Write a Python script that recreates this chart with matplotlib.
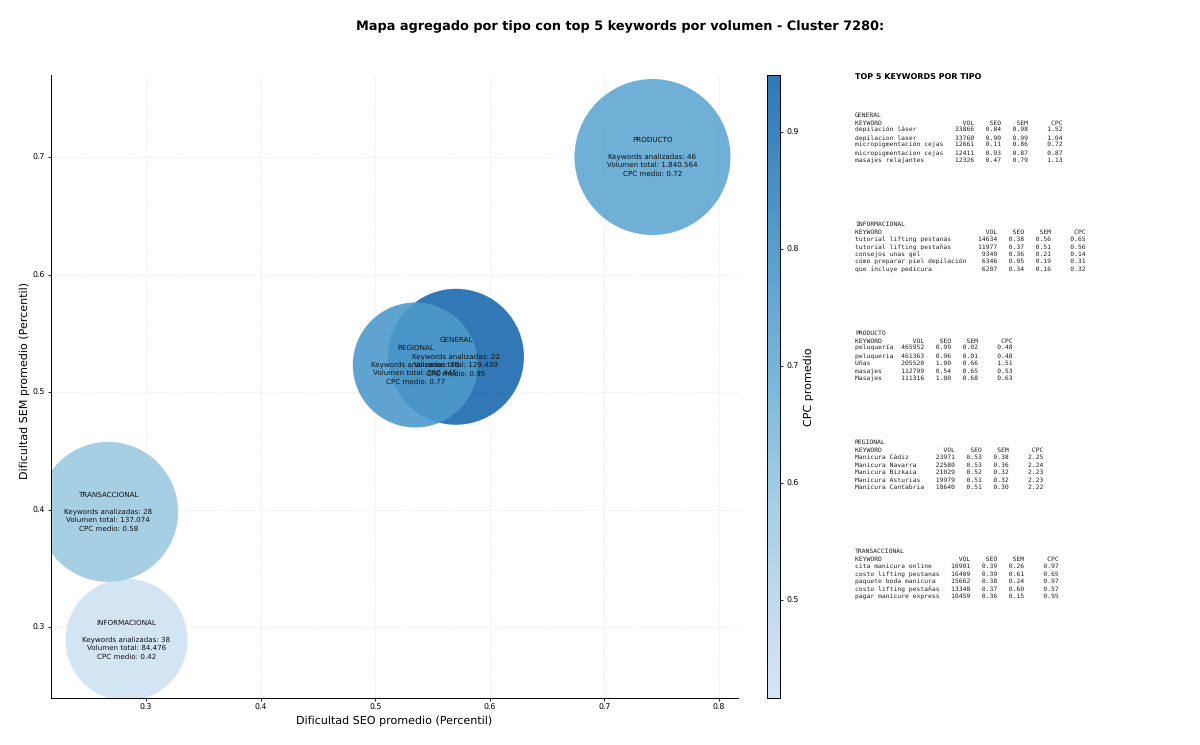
import matplotlib
matplotlib.use("Agg")
import matplotlib.pyplot as plt
from matplotlib.colors import LinearSegmentedColormap, Normalize
from matplotlib.cm import ScalarMappable
import numpy as np

plt.rcParams["text.hinting"] = "none"

# aggregated values per type
tipos = ["GENERAL", "INFORMACIONAL", "PRODUCTO", "REGIONAL", "TRANSACCIONAL"]
seo_medio = [0.5705, 0.283, 0.742, 0.535, 0.267]
sem_medio = [0.530, 0.289, 0.700, 0.523, 0.398]
cpc_medio = [0.95, 0.42, 0.72, 0.77, 0.58]
n_keywords = [22, 38, 46, 78, 28]
vol_total = ["129.430", "84.476", "1.840.564", "250.445", "137.074"]

# bubble radius in pixels
radio_px = [68, 61, 78, 62.5, 70]

# top 5 tables
general_kw = ["depilación láser", "depilacion laser", "micropigmentación cejas", "micropigmentacion cejas", "masajes relajantes"]
general_vol = [33866, 33760, 12661, 12411, 12326]
general_seo = [0.84, 0.90, 0.11, 0.93, 0.47]
general_sem = [0.98, 0.99, 0.86, 0.87, 0.79]
general_cpc = [1.52, 1.04, 0.72, 0.87, 1.13]

info_kw = ["tutorial lifting pestanas", "tutorial lifting pestañas", "consejos unas gel", "cómo preparar piel depilación", "que incluye pedicura"]
info_vol = [14634, 11977, 9340, 6346, 6207]
info_seo = [0.38, 0.37, 0.36, 0.05, 0.34]
info_sem = [0.56, 0.51, 0.21, 0.19, 0.16]
info_cpc = [0.65, 0.56, 0.14, 0.31, 0.32]

producto_kw = ["peluquería", "peluqueria", "Uñas", "masajes", "Masajes"]
producto_vol = [465952, 461363, 205520, 112799, 111316]
producto_seo = [0.99, 0.96, 1.00, 0.54, 1.00]
producto_sem = [0.02, 0.01, 0.66, 0.65, 0.68]
producto_cpc = [0.48, 0.48, 1.51, 0.53, 0.63]

regional_kw = ["Manicura Cádiz", "Manicura Navarra", "Manicura Bizkaia", "Manicura Asturias", "Manicura Cantabria"]
regional_vol = [23971, 22580, 21029, 19979, 18640]
regional_seo = [0.53, 0.53, 0.52, 0.51, 0.51]
regional_sem = [0.38, 0.36, 0.32, 0.32, 0.30]
regional_cpc = [2.25, 2.24, 2.23, 2.23, 2.22]

trans_kw = ["cita manicura online", "costo lifting pestanas", "paquete boda manicura", "costo lifting pestañas", "pagar manicure express"]
trans_vol = [16901, 16409, 15662, 13348, 10459]
trans_seo = [0.39, 0.39, 0.38, 0.37, 0.36]
trans_sem = [0.26, 0.61, 0.24, 0.60, 0.15]
trans_cpc = [0.97, 0.65, 0.97, 0.57, 0.95]

W, H = 1200, 745


def ax_rect(left, top, right, bottom):
    return [left / W, 1 - bottom / H, (right - left) / W, (bottom - top) / H]


def tabla(nombre, kw, vol, seo, sem, cpc):
    ancho = max(len(k) for k in kw)
    lineas = [nombre, f"{'KEYWORD':<{ancho}}{'VOL':>8}{'SEO':>7}{'SEM':>7}{'CPC':>9}"]
    for fila in zip(kw, vol, seo, sem, cpc):
        lineas.append(f"{fila[0]:<{ancho}}{fila[1]:>8}{fila[2]:>7.2f}{fila[3]:>7.2f}{fila[4]:>9.2f}")
    return lineas


fig = plt.figure(figsize=(12, 7.45), dpi=100)
ax = fig.add_axes(ax_rect(51, 75, 738, 698))
cax = fig.add_axes(ax_rect(767, 75, 780, 698))

cmap = LinearSegmentedColormap.from_list("blues_cut", plt.cm.Blues(np.linspace(0.2, 0.78, 64)))
norm = Normalize(vmin=0.416, vmax=0.949)

tamanos = [(2 * r * 0.72) ** 2 for r in radio_px]
ax.scatter(seo_medio, sem_medio, s=tamanos, c=cpc_medio, cmap=cmap, norm=norm, alpha=0.9, linewidths=0, zorder=2)

for i, tipo in enumerate(tipos):
    ax.text(seo_medio[i], sem_medio[i],
            f"{tipo}\n\nKeywords analizadas: {n_keywords[i]}\nVolumen total: {vol_total[i]}\nCPC medio: {cpc_medio[i]:.2f}",
            ha="center", va="center", fontsize=5.1, color="#111111", zorder=3, linespacing=1.3)

ax.set_xlim(0.2171, 0.8166)
ax.set_ylim(0.2396, 0.7698)
ax.set_xticks([0.3, 0.4, 0.5, 0.6, 0.7, 0.8])
ax.set_yticks([0.3, 0.4, 0.5, 0.6, 0.7])
ax.tick_params(labelsize=5.6, length=2.5, width=0.6, pad=2)
ax.grid(True, linestyle="--", linewidth=0.5, alpha=0.25, zorder=0)
ax.set_axisbelow(True)
ax.spines["top"].set_visible(False)
ax.spines["right"].set_visible(False)
ax.spines["left"].set_linewidth(0.7)
ax.spines["bottom"].set_linewidth(0.7)
ax.set_xlabel("Dificultad SEO promedio (Percentil)", fontsize=8.06, labelpad=2.5)
ax.set_ylabel("Dificultad SEM promedio (Percentil)", fontsize=8.06, labelpad=2, y=0.51)

cb = fig.colorbar(ScalarMappable(norm=norm, cmap=cmap), cax=cax, alpha=0.9)
cb.set_ticks([0.5, 0.6, 0.7, 0.8, 0.9])
cb.ax.tick_params(labelsize=5.6, length=2.5, width=0.6, pad=2)
cb.outline.set_linewidth(0.7)
cb.set_label("CPC promedio", fontsize=8.06, labelpad=3.5)

fig.text(620 / W, 1 - 26.5 / H, "Mapa agregado por tipo con top 5 keywords por volumen - Cluster 7280:",
         ha="center", va="center", fontsize=9.27, fontweight="bold")
fig.text(855 / W, 1 - 78 / H, "TOP 5 KEYWORDS POR TIPO", ha="left", va="center", fontsize=5.8, fontweight="bold")

bloques = [
    (115, tabla("GENERAL", general_kw, general_vol, general_seo, general_sem, general_cpc)),
    (224, tabla("INFORMACIONAL", info_kw, info_vol, info_seo, info_sem, info_cpc)),
    (333, tabla("PRODUCTO", producto_kw, producto_vol, producto_seo, producto_sem, producto_cpc)),
    (442, tabla("REGIONAL", regional_kw, regional_vol, regional_seo, regional_sem, regional_cpc)),
    (551, tabla("TRANSACCIONAL", trans_kw, trans_vol, trans_seo, trans_sem, trans_cpc)),
]
for y0, lineas in bloques:
    for j, linea in enumerate(lineas):
        # baseline keeps rows with accents level with the others
        fig.text(855 / W, 1 - (y0 + 2.3 + j * 7.45) / H, linea, ha="left", va="baseline",
                 fontsize=4.63, family="DejaVu Sans Mono", color="#222222")

fig.savefig("out.png", dpi=100)
